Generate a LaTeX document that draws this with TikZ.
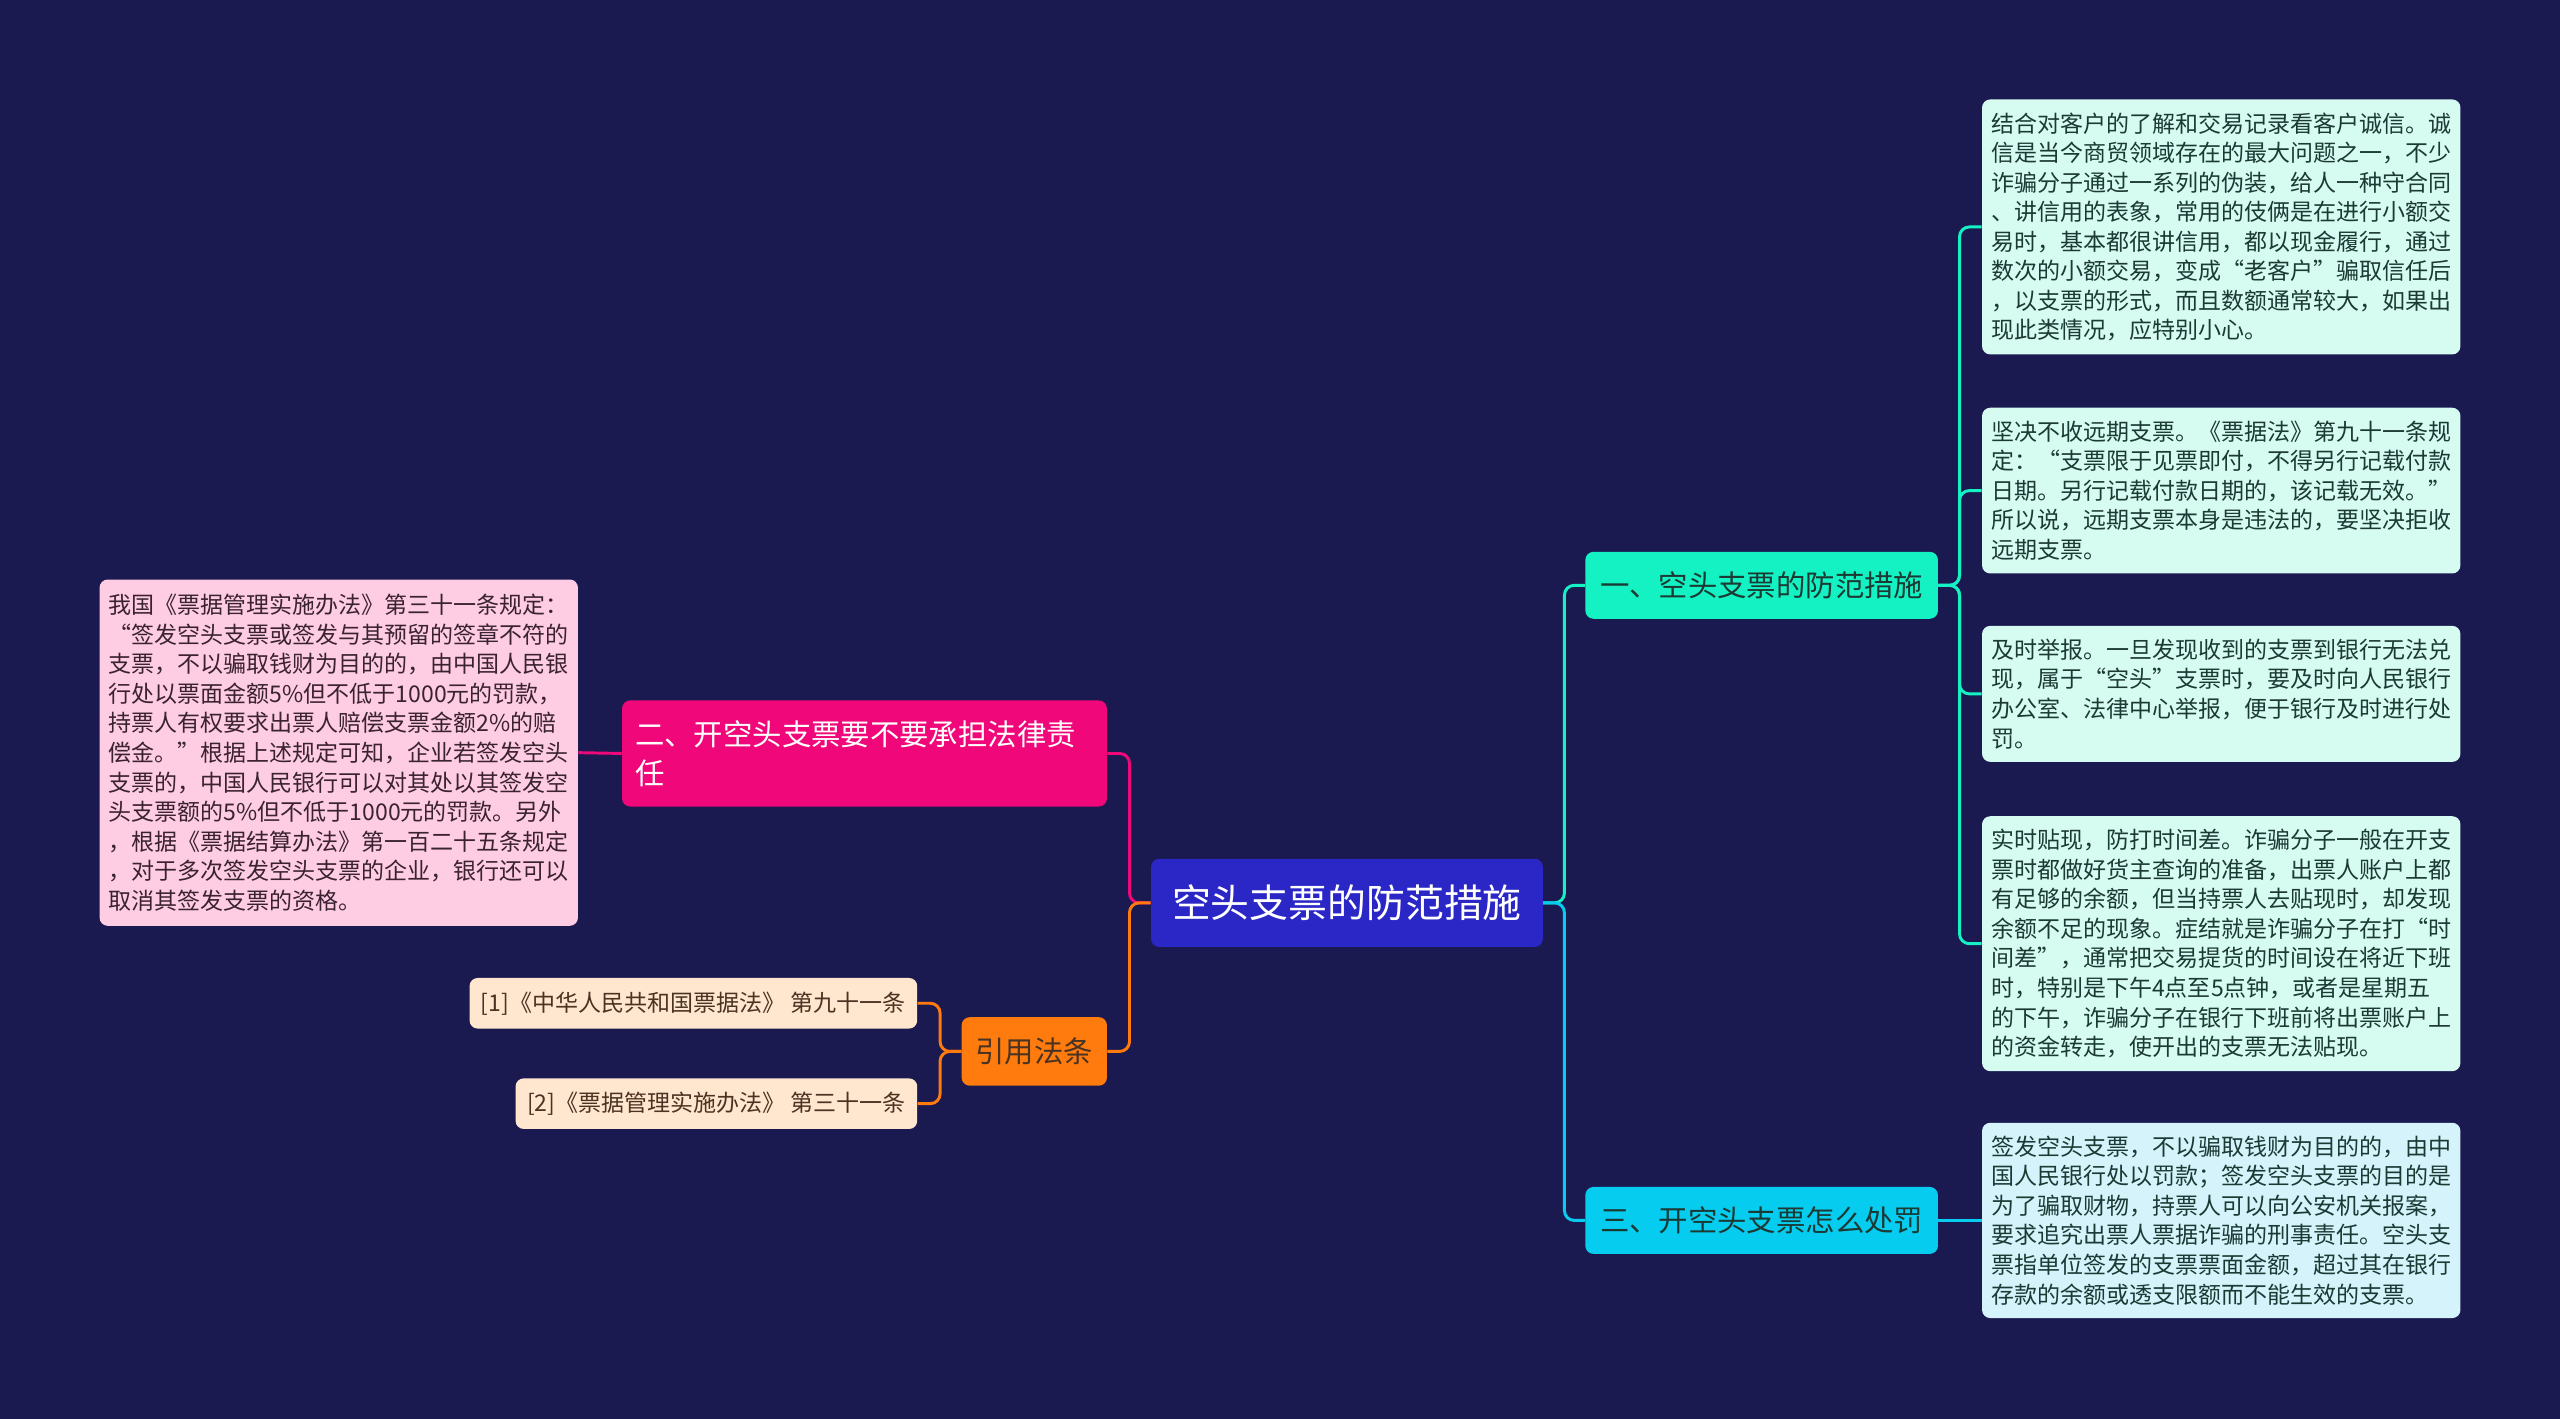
\documentclass[tikz,border=0pt]{standalone}
\usepackage{fontspec}
\setmainfont{Noto Sans CJK SC}
\definecolor{night}{HTML}{1A1950}
\definecolor{royal}{HTML}{2A27C6}
\definecolor{mint}{HTML}{14F2C4}
\definecolor{mintpale}{HTML}{D6FBF1}
\definecolor{sky}{HTML}{06CDF0}
\definecolor{skypale}{HTML}{D4F3FB}
\definecolor{magenta}{HTML}{F0087A}
\definecolor{blush}{HTML}{FFCDE3}
\definecolor{tangerine}{HTML}{FF7B0E}
\definecolor{peach}{HTML}{FFE7CF}
\definecolor{pine}{HTML}{1C3A34}
\definecolor{plum}{HTML}{3A2232}
\definecolor{bark}{HTML}{4A3322}

\begin{document}
\begin{tikzpicture}[x=1pt,y=-1pt,
  rootbox/.style={fill=royal,text=white,rounded corners=5,
    font=\fontsize{23.8}{28}\selectfont,minimum width=240,minimum height=54},
  mainbox/.style={rounded corners=5,font=\fontsize{18}{24}\selectfont,
    minimum height=41,inner xsep=8},
  leafbox/.style={rounded corners=5,text width=282,inner xsep=5.5,
    inner ysep=8,align=left,font=\fontsize{14.1}{18.1}\selectfont},
  citebox/.style={fill=peach,text=bark,rounded corners=5,
    font=\fontsize{14.1}{18}\selectfont,minimum height=31,inner xsep=7},
  link/.style={line width=1.8,rounded corners=6}]
  \fill[night] (0,0) rectangle (1568,869);

  \node[rootbox] (root) at (825,553) {空头支票的防范措施};

  % right side
  \node[mainbox,fill=mint,text=pine,minimum width=216] (prevent) at (1079,358.5)
    {一、空头支票的防范措施};
  \node[mainbox,fill=sky,text=pine,minimum width=216] (punish) at (1079,747.5)
    {三、开空头支票怎么处罚};

  \node[leafbox,fill=mintpale,text=pine] (credit) at (1360.5,139)
    {结合对客户的了解和交易记录看客户诚信。诚\\
     信是当今商贸领域存在的最大问题之一，不少\\
     诈骗分子通过一系列的伪装，给人一种守合同\\
     、讲信用的表象，常用的伎俩是在进行小额交\\
     易时，基本都很讲信用，都以现金履行，通过\\
     数次的小额交易，变成“老客户”骗取信任后\\
     ，以支票的形式，而且数额通常较大，如果出\\
     现此类情况，应特别小心。};
  \node[leafbox,fill=mintpale,text=pine] (future) at (1360.5,300.5)
    {坚决不收远期支票。《票据法》第九十一条规\\
     定：“支票限于见票即付，不得另行记载付款\\
     日期。另行记载付款日期的，该记载无效。”\\
     所以说，远期支票本身是违法的，要坚决拒收\\
     远期支票。};
  \node[leafbox,fill=mintpale,text=pine] (report) at (1360.5,425)
    {及时举报。一旦发现收到的支票到银行无法兑\\
     现，属于“空头”支票时，要及时向人民银行\\
     办公室、法律中心举报，便于银行及时进行处\\
     罚。};
  \node[leafbox,fill=mintpale,text=pine] (discount) at (1360.5,578)
    {实时贴现，防打时间差。诈骗分子一般在开支\\
     票时都做好货主查询的准备，出票人账户上都\\
     有足够的余额，但当持票人去贴现时，却发现\\
     余额不足的现象。症结就是诈骗分子在打“时\\
     间差”，通常把交易提货的时间设在将近下班\\
     时，特别是下午4点至5点钟，或者是星期五\\
     的下午，诈骗分子在银行下班前将出票账户上\\
     的资金转走，使开出的支票无法贴现。};
  \node[leafbox,fill=skypale,text=pine] (penalty) at (1360.5,747.5)
    {签发空头支票，不以骗取钱财为目的的，由中\\
     国人民银行处以罚款；签发空头支票的目的是\\
     为了骗取财物，持票人可以向公安机关报案，\\
     要求追究出票人票据诈骗的刑事责任。空头支\\
     票指单位签发的支票票面金额，超过其在银行\\
     存款的余额或透支限额而不能生效的支票。};

  % left side
  \node[mainbox,fill=magenta,text=white,text width=281,align=left,
    minimum height=65] (liable) at (529.5,461.5)
    {二、开空头支票要不要承担法律责\\任};
  \node[mainbox,fill=tangerine,text=bark,minimum width=89,
    minimum height=42] (laws) at (633.5,644) {引用法条};

  \node[leafbox,fill=blush,text=plum,inner ysep=9] (rule) at (207.5,461)
    {我国《票据管理实施办法》第三十一条规定：\\
     “签发空头支票或签发与其预留的签章不符的\\
     支票，不以骗取钱财为目的的，由中国人民银\\
     行处以票面金额5\%但不低于1000元的罚款，\\
     持票人有权要求出票人赔偿支票金额2\%的赔\\
     偿金。”根据上述规定可知，企业若签发空头\\
     支票的，中国人民银行可以对其处以其签发空\\
     头支票额的5\%但不低于1000元的罚款。另外\\
     ，根据《票据结算办法》第一百二十五条规定\\
     ，对于多次签发空头支票的企业，银行还可以\\
     取消其签发支票的资格。};

  \node[citebox,anchor=east] (cite1) at (562,614.5)
    {[1]《中华人民共和国票据法》 第九十一条};
  \node[citebox,anchor=east] (cite2) at (562,676)
    {[2]《票据管理实施办法》 第三十一条};

  % connectors
  \draw[link,mint] (root.east) -- ++(13,0) |- (prevent.west);
  \draw[link,sky] (root.east) -- ++(13,0) |- (punish.west);
  \foreach \leaf in {credit,future,report,discount}
    \draw[link,mint] (prevent.east) -- ++(13,0) |- (\leaf.west);
  \draw[link,sky] (punish.east) -- (penalty.west);

  \draw[link,magenta] (root.west) -- ++(-13,0) |- (liable.east);
  \draw[link,tangerine] (root.west) -- ++(-13,0) |- (laws.east);
  \draw[link,magenta] (liable.west) -- (rule.east);
  \foreach \cite in {cite1,cite2}
    \draw[link,tangerine] (laws.west) -- ++(-13,0) |- (\cite.east);
\end{tikzpicture}
\end{document}
